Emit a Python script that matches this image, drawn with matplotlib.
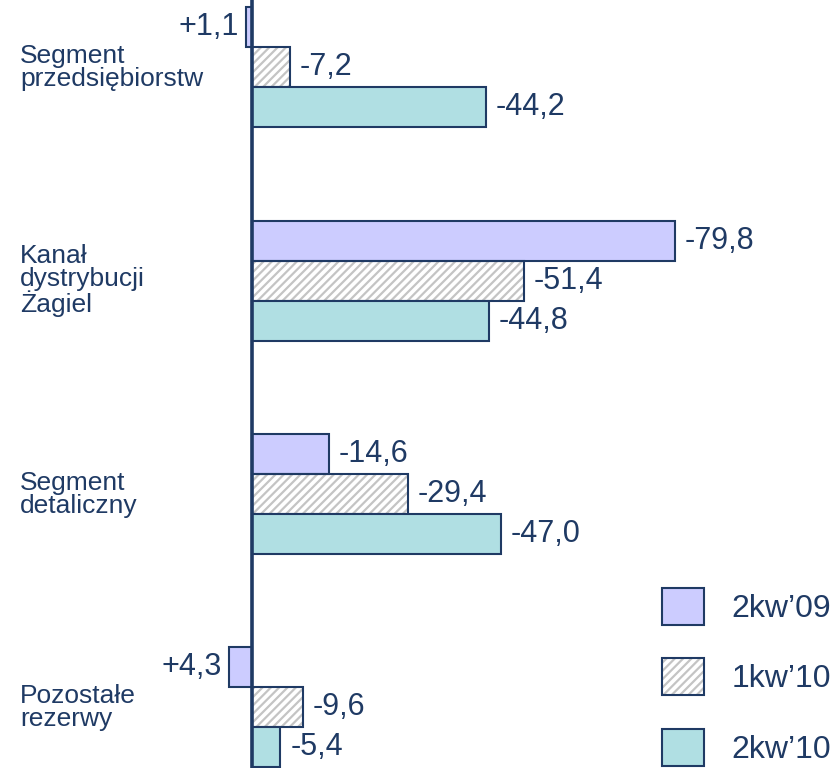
import numpy as np
import matplotlib.pyplot as plt
from matplotlib.patches import Patch

plt.rcParams['font.family'] = ['Liberation Sans', 'DejaVu Sans']
plt.rcParams['hatch.linewidth'] = 1.6

categories = ['Segment\nprzedsiębiorstw', 'Kanał\ndystrybucji\nŻagiel',
              'Segment\ndetaliczny', 'Pozostałe\nrezerwy']
series = ['2kw\u201909', '1kw\u201910', '2kw\u201910']
q2_09 = [1.1, -79.8, -14.6, 4.3]
q1_10 = [-7.2, -51.4, -29.4, -9.6]
q2_10 = [-44.2, -44.8, -47.0, -5.4]

navy = '#1f3a64'
purple = '#ccccff'
cyan = '#b0dfe3'
hatch_grey = '#c4c4c4'

fig = plt.figure(figsize=(8.36, 7.68), dpi=100)
ax = fig.add_axes([0, 0, 1, 1])

y = np.arange(len(categories))
h = 0.1875

# purple
ax.barh(y - h, q2_09, height=h, color=purple, edgecolor=navy, linewidth=1.5, zorder=3)
# hatched: hatch layer first, then the outline
ax.barh(y, q1_10, height=h, color='white', edgecolor=hatch_grey, hatch='////',
        linewidth=0, zorder=2)
ax.barh(y, q1_10, height=h, fill=False, edgecolor=navy, linewidth=1.5, zorder=3)
# cyan
ax.barh(y + h, q2_10, height=h, color=cyan, edgecolor=navy, linewidth=1.5, zorder=3)

# value labels
for vals, off in [(q2_09, -h), (q1_10, 0), (q2_10, h)]:
    for i, v in enumerate(vals):
        txt = f"{v:+.1f}".replace('.', ',')
        if v < 0:
            ax.annotate(txt, (v, i + off), xytext=(7, 0), textcoords='offset points',
                        ha='left', va='center', fontsize=22, color=navy)
        else:
            ax.annotate(txt, (v, i + off), xytext=(-5, 0), textcoords='offset points',
                        ha='right', va='center', fontsize=22, color=navy)

# category labels
for i, c in enumerate(categories):
    ax.text(0.024, i, c, transform=ax.get_yaxis_transform(), ha='left',
            va='center', fontsize=19, color=navy, linespacing=0.95)

ax.axvline(0, color=navy, linewidth=2.6, zorder=4)

ax.set_xlim(47.5, -110.2)
ax.set_ylim(3.284, -0.316)
ax.axis('off')

handles = [Patch(facecolor=purple, edgecolor=navy, linewidth=1.5),
           (Patch(facecolor='white', edgecolor=hatch_grey, hatch='////', linewidth=0),
            Patch(fill=False, edgecolor=navy, linewidth=1.5)),
           Patch(facecolor=cyan, edgecolor=navy, linewidth=1.5)]
ax.legend(handles, series, loc='lower right', bbox_to_anchor=(0.994, 0.003),
          frameon=False, fontsize=23, labelcolor=navy, handlelength=1.31,
          handleheight=1.4, handletextpad=0.85, labelspacing=1.05,
          borderaxespad=0, borderpad=0)

plt.savefig('out.png', dpi=100)
